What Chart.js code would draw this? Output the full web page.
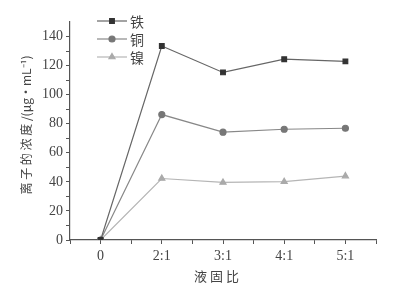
<!DOCTYPE html>
<html>
<head>
<meta charset="utf-8">
<script src="https://cdn.jsdelivr.net/npm/chart.js@4/dist/chart.umd.min.js"></script>
<style>
  html, body { margin: 0; padding: 0; background: #fff; }
  #wrap { width: 413px; height: 286px; }
</style>
</head>
<body>
<div id="wrap"><canvas id="c" width="413" height="286"></canvas></div>
<script>
const ratios = ['0', '2:1', '3:1', '4:1', '5:1'];
const iron = [0, 133.5, 115.3, 124.4, 122.9];
const copper = [0, 86.3, 74.2, 76.2, 76.9];
const nickel = [0, 42.3, 39.6, 40.1, 44.0];
const yTicks = [0, 20, 40, 60, 80, 100, 120, 140];

const serif = '"Liberation Serif", "DejaVu Serif", serif';
const cjk = '"Noto Sans CJK SC", sans-serif';

const toPoints = arr => arr.map((v, i) => ({ x: i, y: v }));

// legend drawn inside the plot, top-left, like the original figure
const innerLegend = {
    id: 'innerLegend',
    afterDatasetsDraw(chart) {
        const ctx = chart.ctx;
        const x0 = 97, x1 = 127, yStart = 21, gap = 18;
        chart.data.datasets.forEach((ds, i) => {
            const y = yStart + i * gap;
            ctx.save();
            ctx.strokeStyle = ds.borderColor;
            ctx.lineWidth = ds.borderWidth;
            ctx.beginPath();
            ctx.moveTo(x0, y);
            ctx.lineTo(x1, y);
            ctx.stroke();
            ctx.fillStyle = ds.pointBackgroundColor;
            ctx.strokeStyle = ds.pointBackgroundColor;
            Chart.helpers.drawPoint(ctx, {
                pointStyle: ds.pointStyle,
                radius: ds.pointRadius,
                borderWidth: 1,
                rotation: 0
            }, (x0 + x1) / 2, y);
            ctx.fillStyle = '#444';
            ctx.font = '14px ' + cjk;
            ctx.textBaseline = 'middle';
            ctx.textAlign = 'left';
            ctx.fillText(ds.label, x1 + 3, y + 1);
            ctx.restore();
        });
    }
};

new Chart(document.getElementById('c'), {
    type: 'line',
    data: {
        datasets: [
            {
                label: '铁',
                data: toPoints(iron),
                borderColor: '#666',
                borderWidth: 1.2,
                pointStyle: 'rect',
                pointRadius: 3.3,
                pointBackgroundColor: '#333',
                pointBorderColor: '#333'
            },
            {
                label: '铜',
                data: toPoints(copper),
                borderColor: '#888',
                borderWidth: 1.2,
                pointStyle: 'circle',
                pointRadius: 3,
                pointBackgroundColor: '#777',
                pointBorderColor: '#777'
            },
            {
                label: '镍',
                data: toPoints(nickel),
                borderColor: '#b5b5b5',
                borderWidth: 1.2,
                pointStyle: 'triangle',
                pointRadius: 3.5,
                pointBackgroundColor: '#aaa',
                pointBorderColor: '#aaa'
            }
        ]
    },
    options: {
        responsive: false,
        animation: false,
        layout: { padding: { left: 0, right: 37, top: 22, bottom: 0 } },
        plugins: {
            legend: { display: false },
            tooltip: { enabled: false }
        },
        scales: {
            x: {
                type: 'linear',
                min: -0.5,
                max: 4.5,
                afterFit: s => { s.height = 46; },
                afterBuildTicks: s => {
                    s.ticks = [];
                    for (let k = -1; k <= 9; k++) s.ticks.push({ value: k / 2 });
                },
                border: { color: '#555', width: 1.2 },
                grid: { drawOnChartArea: false, tickLength: 4, tickColor: '#555' },
                ticks: {
                    autoSkip: false,
                    maxRotation: 0,
                    padding: 4,
                    color: '#444',
                    font: { family: serif, size: 14 },
                    callback: v => Number.isInteger(v) && v >= 0 ? ratios[v] : ''
                },
                title: {
                    display: true,
                    text: '液 固 比\u3000',
                    color: '#444',
                    font: { family: cjk, size: 13 },
                    padding: { top: 2, bottom: 2 }
                }
            },
            y: {
                min: 0,
                max: 150,
                afterFit: s => { s.width = 70; },
                afterBuildTicks: s => {
                    s.ticks = [];
                    for (let v = 0; v <= 140; v += 10) s.ticks.push({ value: v });
                },
                border: { color: '#555', width: 1.2 },
                grid: { drawOnChartArea: false, tickLength: 4, tickColor: '#555' },
                ticks: {
                    autoSkip: false,
                    padding: 3,
                    color: '#444',
                    font: { family: serif, size: 14 },
                    callback: v => yTicks.includes(v) ? String(v) : ''
                },
                title: {
                    display: true,
                    text: '\u3000离 子 的 浓 度 /(μg·mL⁻¹)',
                    color: '#444',
                    font: { family: cjk, size: 12 },
                    padding: { top: 19, bottom: 0 }
                }
            }
        }
    },
    plugins: [innerLegend]
});
</script>
</body>
</html>
